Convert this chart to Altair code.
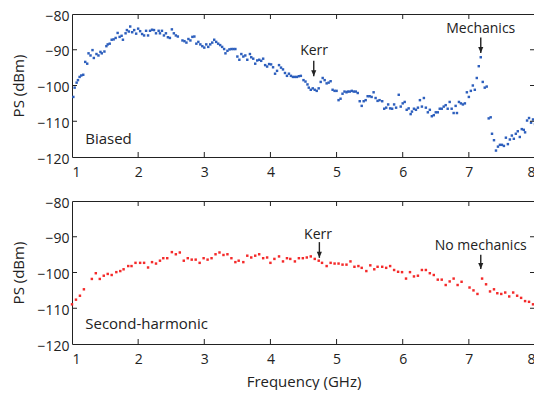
import altair as alt
import pandas as pd

# ---- data ----
freq_top = [1.02, 1.04, 1.07, 1.09, 1.115, 1.14, 1.17, 1.2, 1.23, 1.25, 1.28, 1.31, 1.33, 1.37, 1.4, 1.43, 1.45,
            1.49, 1.52, 1.54, 1.57, 1.6, 1.63, 1.66, 1.69, 1.72, 1.75, 1.77, 1.81, 1.83, 1.86, 1.88, 1.91, 1.94,
            1.97, 2.0, 2.03, 2.06, 2.09, 2.12, 2.15, 2.18, 2.21, 2.24, 2.27, 2.31, 2.33, 2.36, 2.39, 2.42, 2.45,
            2.48, 2.51, 2.54, 2.57, 2.6, 2.67, 2.7, 2.73, 2.76, 2.79, 2.82, 2.85, 2.88, 2.91, 2.94, 2.97, 3.0,
            3.03, 3.06, 3.09, 3.12, 3.15, 3.18, 3.21, 3.24, 3.27, 3.3, 3.32, 3.35, 3.38, 3.41, 3.44, 3.47, 3.5,
            3.53, 3.56, 3.59, 3.62, 3.65, 3.69, 3.71, 3.74, 3.77, 3.8, 3.83, 3.86, 3.89, 3.92, 3.95, 3.98, 4.01,
            4.04, 4.07, 4.1, 4.13, 4.16, 4.19, 4.22, 4.25, 4.28, 4.31, 4.34, 4.37, 4.4, 4.43, 4.46, 4.5, 4.53,
            4.56, 4.58, 4.61, 4.64, 4.67, 4.7, 4.73, 4.76, 4.79, 4.82, 4.85, 4.88, 4.91, 4.94, 4.97, 5.0, 5.03,
            5.06, 5.09, 5.12, 5.15, 5.17, 5.2, 5.23, 5.26, 5.29, 5.32, 5.35, 5.38, 5.41, 5.44, 5.47, 5.5, 5.53,
            5.56, 5.59, 5.62, 5.65, 5.69, 5.72, 5.75, 5.78, 5.81, 5.84, 5.87, 5.9, 5.94, 5.97, 6.0, 6.03, 6.06,
            6.09, 6.12, 6.14, 6.17, 6.2, 6.23, 6.26, 6.29, 6.32, 6.35, 6.38, 6.41, 6.44, 6.47, 6.5, 6.53, 6.56,
            6.59, 6.62, 6.65, 6.68, 6.71, 6.74, 6.77, 6.8, 6.82, 6.85, 6.88, 6.91, 6.94, 6.97, 7.0, 7.03, 7.06,
            7.09, 7.12, 7.15, 7.18, 7.21, 7.24, 7.27, 7.3, 7.33, 7.35, 7.38, 7.41, 7.44, 7.47, 7.5, 7.53, 7.56,
            7.59, 7.62, 7.65, 7.68, 7.71, 7.74, 7.77, 7.8, 7.83, 7.85, 7.88, 7.91, 7.94, 7.97, 8.0]
ps_top = [-103.2, -100.6, -99.2, -98.5, -97.6, -97.2, -97.0, -93.4, -93.9, -91.0, -91.6, -90.1, -92.3, -91.2,
          -91.6, -90.6, -91.0, -90.5, -89.0, -88.5, -88.3, -87.2, -87.1, -86.7, -85.3, -86.4, -86.1, -87.2,
          -85.4, -84.5, -84.9, -83.5, -85.1, -84.5, -85.5, -84.1, -84.8, -85.6, -86.0, -84.7, -86.0, -84.7,
          -84.4, -84.5, -85.4, -84.7, -85.4, -84.7, -86.0, -85.4, -86.5, -86.7, -84.3, -85.4, -86.0, -86.3,
          -87.4, -87.6, -88.0, -87.0, -87.4, -86.4, -86.3, -88.3, -87.8, -88.5, -89.0, -89.4, -88.5, -89.2,
          -88.5, -88.0, -87.2, -87.8, -88.3, -88.7, -89.2, -89.8, -91.0, -90.3, -89.9, -89.8, -89.8, -89.8,
          -91.9, -92.8, -91.2, -91.9, -91.6, -92.8, -91.2, -92.1, -92.5, -93.9, -93.0, -92.8, -93.1, -92.5,
          -94.3, -94.7, -94.0, -94.1, -94.9, -96.7, -95.9, -94.3, -95.0, -95.5, -96.5, -97.3, -96.7, -97.3,
          -97.6, -97.6, -97.6, -97.4, -97.3, -98.5, -98.9, -99.7, -100.6, -101.2, -100.8, -101.2, -101.5,
          -100.8, -99.0, -97.9, -98.5, -99.4, -99.2, -98.8, -101.2, -101.5, -101.5, -104.1, -103.7, -102.3,
          -101.7, -101.9, -101.7, -101.7, -101.5, -101.7, -101.7, -102.1, -104.4, -105.7, -104.4, -104.1,
          -103.0, -103.0, -103.2, -101.9, -103.5, -104.3, -104.1, -104.4, -106.5, -106.2, -105.3, -106.4,
          -106.5, -105.3, -106.2, -102.6, -105.9, -105.0, -104.6, -106.8, -106.4, -108.0, -107.3, -106.5,
          -106.8, -106.2, -104.1, -105.9, -103.5, -106.2, -107.5, -106.8, -108.6, -108.3, -107.5, -107.5,
          -106.5, -106.5, -105.9, -105.5, -106.5, -104.6, -106.5, -107.7, -105.7, -107.7, -104.6, -105.0,
          -105.3, -105.0, -101.9, -103.2, -101.5, -100.0, -101.2, -97.9, -94.6, -92.1, -99.0, -100.6, -100.3,
          -109.2, -108.9, -113.5, -115.3, -118.2, -117.1, -116.6, -116.6, -116.9, -114.6, -116.4, -115.1,
          -114.0, -114.9, -113.5, -112.8, -114.4, -112.2, -112.4, -113.1, -109.8, -109.1, -110.4, -109.5,
          -110.8]

freq_bot = [1.0, 1.06, 1.12, 1.18, 1.3, 1.36, 1.42, 1.48, 1.54, 1.6, 1.67, 1.73, 1.78, 1.85, 1.9, 1.96, 2.03,
            2.09, 2.15, 2.21, 2.27, 2.33, 2.38, 2.44, 2.51, 2.57, 2.63, 2.69, 2.75, 2.81, 2.87, 2.93, 2.99, 3.05,
            3.11, 3.17, 3.23, 3.29, 3.35, 3.41, 3.47, 3.52, 3.59, 3.65, 3.71, 3.77, 3.83, 3.89, 3.95, 4.0, 4.06,
            4.13, 4.19, 4.25, 4.3, 4.37, 4.43, 4.49, 4.55, 4.61, 4.67, 4.73, 4.78, 4.85, 4.91, 4.97, 5.03, 5.09,
            5.15, 5.21, 5.27, 5.33, 5.38, 5.45, 5.51, 5.57, 5.62, 5.69, 5.75, 5.81, 5.87, 5.93, 5.99, 6.05, 6.11,
            6.17, 6.23, 6.29, 6.35, 6.41, 6.47, 6.53, 6.59, 6.65, 6.71, 6.77, 6.83, 6.89, 7.01, 7.07, 7.13, 7.2,
            7.26, 7.32, 7.38, 7.43, 7.49, 7.55, 7.61, 7.67, 7.73, 7.79, 7.85, 7.91, 7.97]
ps_bot = [-108.9, -107.6, -106.5, -104.7, -101.8, -100.2, -101.8, -100.9, -100.4, -100.7, -99.9, -99.6, -99.1,
          -98.2, -98.2, -97.3, -97.3, -97.3, -98.6, -97.1, -97.5, -96.7, -96.0, -96.0, -94.3, -94.9, -94.4,
          -96.7, -96.0, -96.4, -96.4, -97.3, -96.0, -96.4, -96.0, -94.9, -94.4, -95.1, -94.9, -96.0, -97.1,
          -96.7, -97.1, -95.3, -95.8, -95.3, -94.9, -96.0, -95.8, -97.3, -96.2, -95.5, -96.9, -96.0, -96.2,
          -96.9, -96.0, -96.0, -95.8, -95.5, -96.2, -96.7, -97.3, -98.2, -97.3, -97.5, -97.5, -97.8, -97.8,
          -96.9, -98.4, -98.2, -98.7, -99.6, -98.0, -99.1, -98.4, -98.4, -98.7, -98.2, -99.3, -99.8, -99.9,
          -101.7, -99.9, -101.1, -100.9, -99.3, -99.3, -100.2, -100.7, -102.0, -102.0, -103.5, -102.5, -101.7,
          -103.5, -102.6, -104.2, -105.0, -106.0, -101.7, -103.3, -105.3, -104.7, -105.8, -106.0, -105.6,
          -106.7, -105.6, -106.5, -107.1, -108.0, -108.2, -108.9]

x_ticks = [1, 2, 3, 4, 5, 6, 7, 8]
y_ticks = [-120, -110, -100, -90, -80]

# annotations: label text, text position, arrow x, arrow top, arrow tip
ann_top_text = ["Kerr", "Mechanics"]
ann_top_tx = [4.66, 7.18]
ann_top_ty = [-90.3, -84.3]
ann_top_ax = [4.655, 7.18]
ann_top_a1 = [-93.1, -86.6]
ann_top_a2 = [-97.4, -90.9]

ann_bot_text = ["Kerr", "No mechanics"]
ann_bot_tx = [4.72, 7.18]
ann_bot_ty = [-89.4, -92.6]
ann_bot_ax = [4.74, 7.18]
ann_bot_a1 = [-91.5, -95.0]
ann_bot_a2 = [-95.9, -99.0]

panel_labels = ["Biased", "Second-harmonic"]
panel_label_x = [1.2, 1.2]
panel_label_y = [-116.4, -115.9]

W, H = 463, 143
FONT = "Open Sans"
INK = "#222222"
BLUE = "#2d5fbd"
RED = "#f42a2a"

xs = alt.Scale(domain=[1, 8], nice=False, zero=False)
ys = alt.Scale(domain=[-120, -80], nice=False, zero=False)


def panel(freq, ps, color, a_text, a_tx, a_ty, a_ax, a_a1, a_a2, label, lx, ly, xtitle):
    if xtitle:
        xaxis = alt.Axis(values=x_ticks, format="d", labelPadding=8, titlePadding=8, title=xtitle)
    else:
        xaxis = alt.Axis(values=x_ticks, format="d", labelPadding=8, title="")
    yaxis = alt.Axis(values=y_ticks, format="d", labelPadding=3, labelOffset=2, titlePadding=10,
                     title="PS (dBm)")

    def X(field):
        return alt.X(field, type="quantitative", scale=xs, axis=xaxis)

    def Y(field):
        return alt.Y(field, type="quantitative", scale=ys, axis=yaxis)

    df = pd.DataFrame({"f": freq, "ps": ps})
    pts = alt.Chart(df).mark_square(size=6, color=color, opacity=1, filled=True).encode(
        x=X("f"), y=Y("ps"))
    xt = pd.DataFrame({"f": x_ticks[1:-1]})
    yt = pd.DataFrame({"ps": y_ticks[1:-1]})
    tb = alt.Chart(xt).mark_rule(color=INK, strokeWidth=1).encode(
        x=X("f"), y=alt.value(H), y2=alt.value(H - 5))
    tt = alt.Chart(xt).mark_rule(color=INK, strokeWidth=1).encode(
        x=X("f"), y=alt.value(0), y2=alt.value(5))
    tl = alt.Chart(yt).mark_rule(color=INK, strokeWidth=1).encode(
        y=Y("ps"), x=alt.value(0), x2=alt.value(5))
    tr = alt.Chart(yt).mark_rule(color=INK, strokeWidth=1).encode(
        y=Y("ps"), x=alt.value(W - 5), x2=alt.value(W))
    adf = pd.DataFrame({"t": a_text, "tx": a_tx, "ty": a_ty, "ax": a_ax, "a1": a_a1, "a2": a_a2})
    atext = alt.Chart(adf).mark_text(font=FONT, fontSize=14, color=INK, align="center",
                                     baseline="middle").encode(x=X("tx"), y=Y("ty"), text="t:N")
    ashaft = alt.Chart(adf).mark_rule(color=INK, strokeWidth=1.4).encode(
        x=X("ax"), y=Y("a1"), y2="a2:Q")
    ahead = alt.Chart(adf).mark_point(shape="M-0.85,-2L0.85,-2L0,0Z", size=36, filled=True,
                                      color=INK, opacity=1).encode(x=X("ax"), y=Y("a2"))
    ldf = pd.DataFrame({"t": [label], "x": [lx], "y": [ly]})
    ltext = alt.Chart(ldf).mark_text(font=FONT, fontSize=15, color=INK, align="left",
                                     baseline="alphabetic").encode(x=X("x"), y=Y("y"), text="t:N")
    return alt.layer(pts, tb, tt, tl, tr, ashaft, ahead, atext, ltext).properties(width=W, height=H)


top = panel(freq_top, ps_top, BLUE, ann_top_text, ann_top_tx, ann_top_ty, ann_top_ax, ann_top_a1, ann_top_a2,
            panel_labels[0], panel_label_x[0], panel_label_y[0], None)
bot = panel(freq_bot, ps_bot, RED, ann_bot_text, ann_bot_tx, ann_bot_ty, ann_bot_ax, ann_bot_a1, ann_bot_a2,
            panel_labels[1], panel_label_x[1], panel_label_y[1], "Frequency (GHz)")

chart = alt.vconcat(top, bot, spacing=44, bounds="flush").properties(
    padding={"left": 3, "top": 0, "right": -3, "bottom": 0}
).configure_view(stroke=INK, strokeWidth=1).configure_axis(
    domain=False, ticks=False, tickSize=0, grid=False,
    labelFont=FONT, labelFontSize=14, labelColor=INK,
    titleFont=FONT, titleFontSize=15, titleFontWeight="normal", titleColor=INK
)

chart.save("out.html", embed_options={"renderer": "svg", "actions": False})
